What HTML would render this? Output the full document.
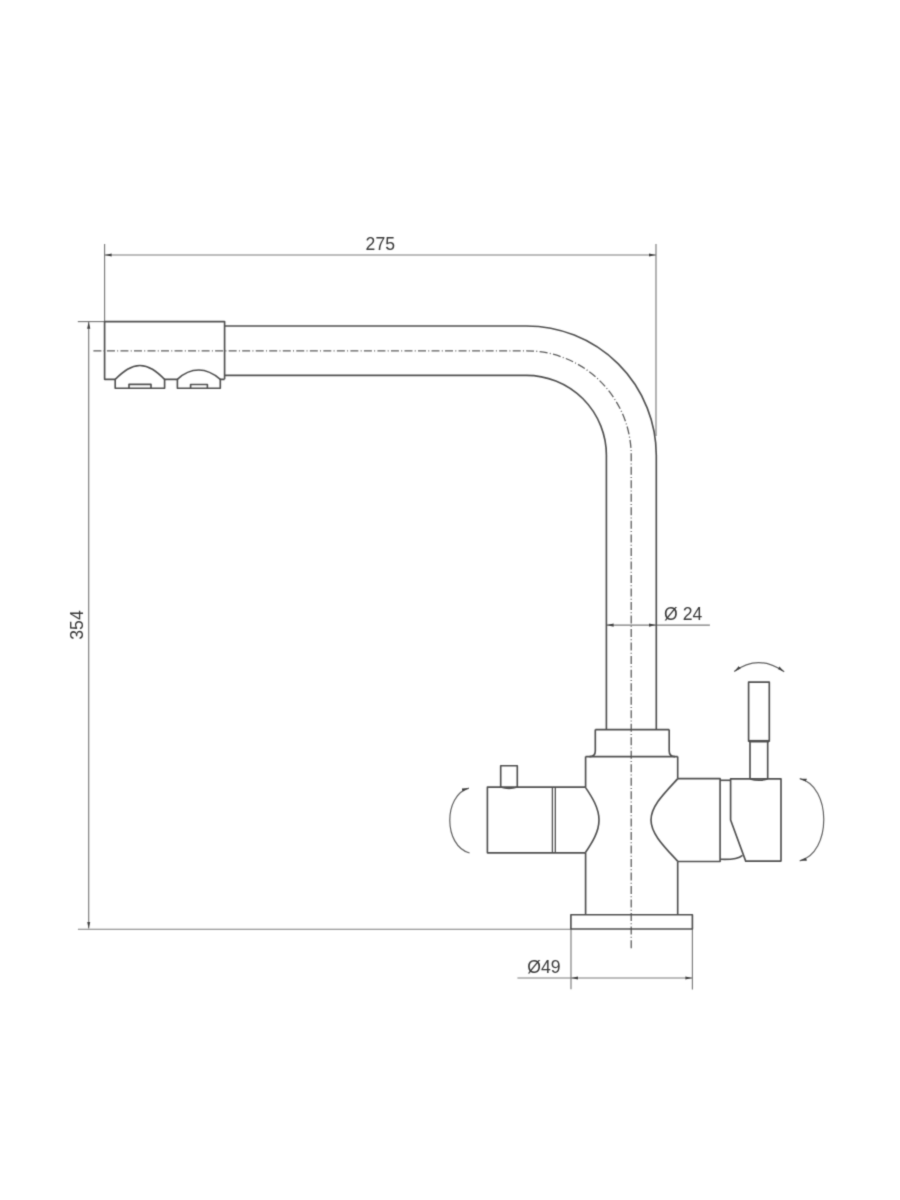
<!DOCTYPE html>
<html>
<head>
<meta charset="utf-8">
<style>
html,body{margin:0;padding:0;background:#fff;width:900px;height:1200px;overflow:hidden;}
svg{display:block;position:absolute;left:0;top:0;will-change:transform;}
text{font-family:"Liberation Sans", sans-serif;fill:#383838;}
</style>
</head>
<body>
<svg width="900" height="1200" viewBox="0 0 900 1200">
<defs>
<filter id="soft" x="0" y="0" width="900" height="1200" filterUnits="userSpaceOnUse"><feConvolveMatrix order="3" kernelMatrix="0.0225 0.1050 0.0225 0.1050 0.4900 0.1050 0.0225 0.1050 0.0225" divisor="1" preserveAlpha="false"/></filter>
<marker id="ar" markerUnits="userSpaceOnUse" markerWidth="8" markerHeight="5" refX="7" refY="2.5" orient="auto-start-reverse" viewBox="0 0 8 5">
<path d="M0,0.9 L7,2.5 L0,4.1 Z" fill="#404040"/>
</marker>
</defs>

<g filter="url(#soft)">
<!-- dimension lines -->
<g fill="none" stroke="#7a7a7a" stroke-width="1.15">
  <!-- 275 -->
  <path d="M104.6,243.9 V321.6"/>
  <path d="M656,244 V436"/>
  <path d="M104.6,255 H656" marker-start="url(#ar)" marker-end="url(#ar)"/>
  <!-- 354 -->
  <path d="M77.8,321.6 H104.6"/>
  <path d="M77.9,929.2 H570.9"/>
  <path d="M88.7,321.8 V928.6" marker-start="url(#ar)" marker-end="url(#ar)"/>
  <!-- d24 -->
  <path d="M656,625.1 H709.9"/>
  <path d="M606.6,625.1 H656" marker-start="url(#ar)" marker-end="url(#ar)"/>
  <!-- d49 -->
  <path d="M571,928.8 V989.3"/>
  <path d="M692.4,928.8 V989.6"/>
  <path d="M517.4,978 H571"/>
  <path d="M571,978 H692.4" marker-start="url(#ar)" marker-end="url(#ar)"/>
</g>

<!-- rotation arrows -->
<g fill="none" stroke="#606060" stroke-width="1.2">
  <path d="M469.6,853 C443.3,846 443.3,795 468.9,788.1" marker-end="url(#ar)"/>
  <path d="M734.2,671.5 Q758.5,653.5 784.2,671.8" marker-start="url(#ar)" marker-end="url(#ar)"/>
  <path d="M799.7,778.7 C831.8,786 831.8,853 799.7,860.8" marker-start="url(#ar)" marker-end="url(#ar)"/>
</g>

<!-- centerline -->
<path d="M93.4,350.8 H526.4 A104.8,104.8 0 0 1 631.2,455.5 V948.8" fill="none" stroke="#5c5c5c" stroke-width="1.3" stroke-dasharray="8 2.25 1 2.275"/>

<!-- main outlines -->
<g fill="none" stroke="#505050" stroke-width="1.65" stroke-linejoin="round">
  <!-- spout -->
  <path d="M224.6,326 H526.4 A129.9,129.5 0 0 1 656.3,455.5 V729.6"/>
  <path d="M224.6,375.3 H526.4 A80,80 0 0 1 606.4,455.3 V729.6"/>
  <!-- head -->
  <path d="M224.6,379.3 V321.6 H104.6 V379.3 H115.2 V388.2 H164.6 V379.3 H177.4 V388.2 H220.3 V379.3 H224.6"/>
  <path d="M115.2,379.3 C124,371 131,365.5 139.9,365.5 C149,365.5 156,371 164.6,379.3"/>
  <path d="M177.4,379.3 C184,373 190,370 198.8,370 C207,370 213,373 220.3,379.3"/>
  <path d="M129,388.2 V384.3 H151 V388.2"/>
  <path d="M190.6,388.2 V384.5 H207.4 V388.2"/>
  <!-- collar -->
  <path d="M595.3,729.6 H669.2"/>
  <path d="M595.3,729.6 V751 Q595.3,756.6 589.5,756.6"/>
  <path d="M669.2,729.6 V751 Q669.2,756.6 675,756.6"/>
  <path d="M585.6,756.6 H677.7"/>
  <!-- body -->
  <path d="M585.6,756.6 V787.1 M585.6,852.8 V914.6"/>
  <path d="M677.7,756.6 V778.6 M677.7,861.4 V914.6"/>
  <path d="M570.9,914.7 H692.4 V929 H570.9 Z"/>
  <!-- left handle -->
  <path d="M585.3,787.1 H487.4 V852.8 H585.3"/>
  <path d="M552.4,787.1 V852.8 M555.3,787.1 V852.8" stroke-width="1.3"/>
  <path d="M585.3,787.1 C592,797 599,808 599,820 C599,832 592,843 585.3,852.8"/>
  <path d="M500.7,787.1 V765.7 H517.3 V787.1"/>
  <path d="M500.7,787.1 Q509,790 517.3,787.1" stroke-width="1.3"/>
  <!-- right handle part1 -->
  <path d="M677.8,778.6 H720.1 V861.5 H677.8"/>
  <path d="M677.8,778.6 C664.6,793 651,806 651,820 C651,834 664.6,847 677.8,861.4"/>
  <!-- part2 -->
  <path d="M720.1,780.3 H730.6"/>
  <path d="M720.1,859.3 C730,859.8 738,859 742.5,855.3"/>
  <!-- part3 -->
  <path d="M730.6,778.8 H781 V861.1 H745.7 L730.6,820 Z"/>
  <!-- stem & lever -->
  <path d="M750,741.2 V779 M767.7,741.2 V779"/>
  <path d="M750,779 Q758.8,781.6 767.7,779" stroke-width="1.4"/>
  <path d="M748.6,741.2 V682.1 H769.3 V741.2 Z"/>
  <path d="M749,741.2 H769" stroke-width="2.6"/>
</g>

<!-- texts -->
<text x="380.3" y="249.7" font-size="17.6" text-anchor="middle">275</text>
<text transform="translate(82.9,625) rotate(-90)" x="0" y="0" font-size="17.6" text-anchor="middle">354</text>
<text x="683.2" y="620" font-size="17.6" text-anchor="middle">Ø 24</text>
<text x="544" y="972.9" font-size="17.6" text-anchor="middle">Ø49</text>

</g>
</svg>
</body>
</html>
